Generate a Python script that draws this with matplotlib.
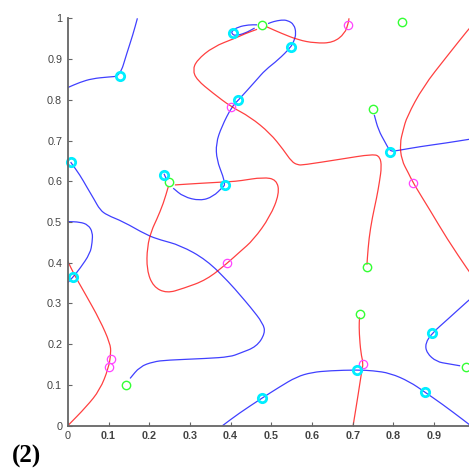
import matplotlib
matplotlib.use("Agg")
import matplotlib.pyplot as plt
from matplotlib.path import Path
from matplotlib.patches import PathPatch
import numpy as np

# ---- blue curves ----
b1_x = [0.0, 0.03, 0.06, 0.10, 0.128, 0.145, 0.16, 0.171]
b1_y = [0.83, 0.843, 0.852, 0.856, 0.858, 0.914, 0.96, 1.0]
b2_x = [0.007, 0.03, 0.046, 0.065, 0.079, 0.096, 0.136, 0.194, 0.227, 0.276, 0.341, 0.398, 0.423,
        0.448, 0.480, 0.485, 0.464, 0.423, 0.399, 0.341, 0.243, 0.210, 0.177, 0.153]
b2_y = [0.647, 0.615, 0.587, 0.555, 0.530, 0.517, 0.501, 0.468, 0.456, 0.443, 0.407, 0.350, 0.321,
        0.292, 0.251, 0.227, 0.194, 0.178, 0.169, 0.165, 0.161, 0.157, 0.145, 0.116]
b3_x = [0.0, 0.03, 0.05, 0.061, 0.060, 0.055, 0.030, 0.012, 0.0]
b3_y = [0.501, 0.500, 0.493, 0.475, 0.45, 0.423, 0.386, 0.364, 0.351]
b4_x = [0.259, 0.284, 0.325, 0.357, 0.382, 0.386, 0.382, 0.366, 0.364, 0.378, 0.403, 0.419, 0.464,
        0.485, 0.517, 0.548, 0.556, 0.561, 0.556, 0.540, 0.525, 0.505, 0.492]
b4_y = [0.583, 0.562, 0.552, 0.562, 0.587, 0.591, 0.611, 0.652, 0.693, 0.734, 0.783, 0.799, 0.849,
        0.873, 0.898, 0.929, 0.945, 0.963, 0.985, 0.995, 0.996, 0.992, 0.987]
b4t_x = [0.237, 0.241]
b4t_y = [0.617, 0.608]
b5_x = [0.459, 0.435, 0.411, 0.403, 0.403, 0.419, 0.444, 0.465]
b5_y = [0.976, 0.963, 0.957, 0.962, 0.969, 0.979, 0.984, 0.984]
b6_x = [0.753, 0.763, 0.78, 0.792, 0.808, 0.865, 0.93, 0.986, 1.0]
b6_y = [0.763, 0.726, 0.695, 0.673, 0.675, 0.685, 0.694, 0.703, 0.705]
b7_x = [0.38, 0.42, 0.476, 0.52, 0.562, 0.60, 0.644, 0.711, 0.75, 0.792, 0.84, 0.878, 0.92, 0.972, 0.99]
b7_y = [0.0, 0.03, 0.067, 0.095, 0.120, 0.131, 0.135, 0.137, 0.135, 0.129, 0.108, 0.082, 0.053, 0.014, 0.0]
b8_x = [0.964, 0.935, 0.906, 0.882, 0.878, 0.896, 0.931, 0.986, 1.0]
b8_y = [0.147, 0.152, 0.157, 0.178, 0.202, 0.228, 0.259, 0.309, 0.32]

# ---- red curves ----
r1_x = [0.0, 0.046, 0.079, 0.100, 0.106, 0.104, 0.079, 0.042, 0.014, 0.0]
r1_y = [0.0, 0.047, 0.088, 0.141, 0.178, 0.202, 0.259, 0.325, 0.374, 0.404]
r2_x = [0.263, 0.325, 0.399, 0.423, 0.480, 0.513, 0.520, 0.497, 0.456, 0.423, 0.392, 0.341, 0.284,
        0.243, 0.210, 0.194, 0.195, 0.206, 0.218, 0.235, 0.247]
r2_y = [0.591, 0.595, 0.599, 0.601, 0.610, 0.604, 0.570, 0.513, 0.456, 0.427, 0.399, 0.358, 0.337,
        0.325, 0.341, 0.382, 0.439, 0.480, 0.505, 0.546, 0.587]
r3a_x = [0.691, 0.689, 0.681, 0.652, 0.607, 0.566, 0.525, 0.489]
r3a_y = [1.0, 0.988, 0.963, 0.940, 0.939, 0.947, 0.963, 0.979]
r3b_x = [0.465, 0.435, 0.411, 0.357, 0.317, 0.307, 0.317, 0.357, 0.401, 0.448, 0.497, 0.530, 0.550,
         0.565, 0.579, 0.669, 0.751, 0.767, 0.771, 0.766, 0.759, 0.748, 0.740, 0.736, 0.735]
r3b_y = [0.973, 0.962, 0.951, 0.930, 0.897, 0.873, 0.849, 0.816, 0.783, 0.758, 0.718, 0.677, 0.648,
         0.640, 0.640, 0.654, 0.667, 0.660, 0.636, 0.600, 0.560, 0.510, 0.460, 0.411, 0.395]
r4_x = [1.0, 0.986, 0.931, 0.873, 0.833, 0.824, 0.816, 0.820, 0.837, 0.849, 0.890, 0.931, 0.986, 1.0]
r4_y = [0.99, 0.975, 0.906, 0.832, 0.758, 0.726, 0.693, 0.652, 0.620, 0.595, 0.529, 0.460, 0.378, 0.36]
r5_x = [0.701, 0.714, 0.722, 0.726, 0.720, 0.716, 0.716, 0.717]
r5_y = [0.0, 0.080, 0.133, 0.153, 0.178, 0.227, 0.255, 0.266]

# ---- markers ----
green_x = [0.821, 0.478, 0.749, 0.249, 0.142, 0.734, 0.718, 0.978]
green_y = [0.991, 0.983, 0.777, 0.598, 0.100, 0.390, 0.273, 0.145]
cyan_x = [0.128, 0.007, 0.012, 0.236, 0.386, 0.419, 0.407, 0.548, 0.792, 0.476, 0.711, 0.878, 0.896]
cyan_y = [0.858, 0.647, 0.364, 0.616, 0.591, 0.799, 0.963, 0.929, 0.673, 0.067, 0.137, 0.082, 0.228]
mag_x = [0.401, 0.688, 0.849, 0.392, 0.106, 0.100, 0.725]
mag_y = [0.783, 0.983, 0.595, 0.399, 0.163, 0.143, 0.151]

xticks = [0, 0.1, 0.2, 0.3, 0.4, 0.5, 0.6, 0.7, 0.8, 0.9]
xtick_labels = ["0", "0.1", "0.2", "0.3", "0.4", "0.5", "0.6", "0.7", "0.8", "0.9"]
yticks = [0, 0.1, 0.2, 0.3, 0.4, 0.5, 0.6, 0.7, 0.8, 0.9, 1]
ytick_labels = ["0", "0.1", "0.2", "0.3", "0.4", "0.5", "0.6", "0.7", "0.8", "0.9", "1"]
panel_label = "(2)"

fig = plt.figure(figsize=(4.69, 4.68), dpi=100)
ax = fig.add_axes([67.8 / 469, 1 - 425.7 / 468, 407 / 469, 407.4 / 468])


def smooth_curve(ax, xs, ys, color):
    pts = np.column_stack([xs, ys])
    if len(pts) < 3:
        ax.plot(xs, ys, color=color, lw=0.9, alpha=0.75)
        return
    verts = [pts[0], (pts[0] + pts[1]) / 2]
    codes = [Path.MOVETO, Path.LINETO]
    for i in range(1, len(pts) - 1):
        verts += [pts[i], (pts[i] + pts[i + 1]) / 2]
        codes += [Path.CURVE3, Path.CURVE3]
    verts.append(pts[-1])
    codes.append(Path.LINETO)
    ax.add_patch(PathPatch(Path(verts, codes), facecolor="none", edgecolor=color,
                           lw=0.9, alpha=0.75))


for xs, ys in [(b1_x, b1_y), (b2_x, b2_y), (b3_x, b3_y), (b4_x, b4_y), (b4t_x, b4t_y),
               (b5_x, b5_y), (b6_x, b6_y), (b7_x, b7_y), (b8_x, b8_y)]:
    smooth_curve(ax, xs, ys, "#0000ff")
for xs, ys in [(r1_x, r1_y), (r2_x, r2_y), (r3a_x, r3a_y), (r3b_x, r3b_y), (r4_x, r4_y), (r5_x, r5_y)]:
    smooth_curve(ax, xs, ys, "#ff0000")

ax.plot(green_x, green_y, "o", ms=6, mfc="none", mec="#33ff33", mew=1.0, clip_on=False)
ax.plot(mag_x, mag_y, "o", ms=6, mfc="none", mec="#ff44ff", mew=0.9, clip_on=False)
ax.plot(cyan_x, cyan_y, "o", ms=6, mfc="none", mec="#00eeff", mew=2.0, clip_on=False)

ax.set_xlim(0, 1)
ax.set_ylim(0, 1)
ax.set_xticks(xticks)
ax.set_xticklabels(xtick_labels)
ax.set_yticks(yticks)
ax.set_yticklabels(ytick_labels)
for s in ["top", "right"]:
    ax.spines[s].set_visible(False)
for s in ["left", "bottom"]:
    ax.spines[s].set_color("#666666")
    ax.spines[s].set_linewidth(1.3)
ax.tick_params(direction="in", length=3, width=0.8, color="#666666", labelcolor="#444444",
               labelsize=7.8, pad=4)
for t in ax.get_xticklabels():
    t.set_fontfamily("Liberation Sans")
    if t.get_text() != "0":
        t.set_fontweight("bold")
for t in ax.get_yticklabels():
    t.set_fontfamily("Liberation Sans")

fig.text(26 / 469, 1 - 456 / 468, panel_label, fontsize=18, fontweight="bold",
         family="Liberation Serif", ha="center", va="center")

fig.savefig("out.png", dpi=100)
